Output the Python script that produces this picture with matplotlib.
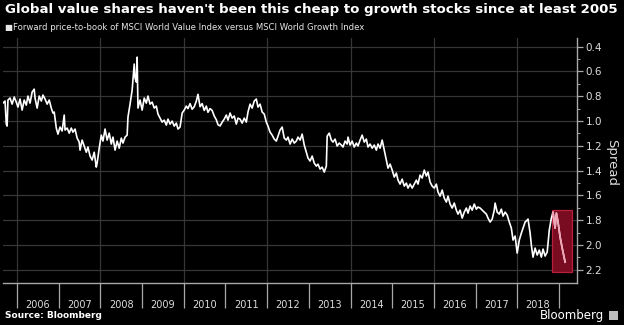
import matplotlib
matplotlib.use("Agg")
import matplotlib.pyplot as plt
import matplotlib.patches as patches

# forward P/B spread, value vs growth
years = [
    2005.66, 2005.71, 2005.74, 2005.76, 2005.78, 2005.83, 2005.88, 2005.93, 2005.98,
    2006.02, 2006.07, 2006.12, 2006.17, 2006.22, 2006.26, 2006.31, 2006.36, 2006.41, 2006.43,
    2006.48, 2006.53, 2006.58, 2006.62, 2006.67, 2006.72, 2006.77, 2006.82, 2006.86, 2006.89,
    2006.94, 2006.98,
    2007.03, 2007.08, 2007.13, 2007.15, 2007.20, 2007.25, 2007.30, 2007.34, 2007.39, 2007.44,
    2007.49, 2007.51, 2007.56, 2007.61, 2007.66, 2007.70, 2007.75, 2007.80, 2007.85, 2007.90,
    2007.92, 2007.97,
    2008.02, 2008.06, 2008.11, 2008.16, 2008.21, 2008.26, 2008.30, 2008.35, 2008.40, 2008.45,
    2008.50, 2008.54, 2008.59, 2008.64, 2008.66, 2008.71, 2008.76, 2008.78, 2008.81, 2008.83,
    2008.86, 2008.88, 2008.90, 2008.95, 2009.00,
    2009.05, 2009.10, 2009.14, 2009.19, 2009.24, 2009.29, 2009.34, 2009.38, 2009.43, 2009.48,
    2009.53, 2009.58, 2009.62, 2009.67, 2009.72, 2009.77, 2009.82, 2009.86, 2009.91, 2009.96,
    2010.01, 2010.06, 2010.10, 2010.15, 2010.20, 2010.25, 2010.30, 2010.34, 2010.39, 2010.44,
    2010.49, 2010.54, 2010.58, 2010.63, 2010.68, 2010.73, 2010.78, 2010.82, 2010.87, 2010.92,
    2010.97,
    2011.02, 2011.06, 2011.11, 2011.16, 2011.21, 2011.26, 2011.30, 2011.35, 2011.40, 2011.45,
    2011.50, 2011.54, 2011.59, 2011.64, 2011.69, 2011.74, 2011.78, 2011.83, 2011.88, 2011.93,
    2011.98,
    2012.02, 2012.07, 2012.12, 2012.17, 2012.22, 2012.26, 2012.31, 2012.36, 2012.41, 2012.46,
    2012.50, 2012.55, 2012.60, 2012.65, 2012.70, 2012.74, 2012.79, 2012.84, 2012.89, 2012.94,
    2012.98,
    2013.03, 2013.08, 2013.13, 2013.18, 2013.22, 2013.27, 2013.32, 2013.37, 2013.42, 2013.44,
    2013.49, 2013.54, 2013.58, 2013.63, 2013.68, 2013.73, 2013.78, 2013.82, 2013.87, 2013.92,
    2013.94, 2013.99,
    2014.04, 2014.09, 2014.14, 2014.18, 2014.23, 2014.28, 2014.33, 2014.38, 2014.42, 2014.47,
    2014.52, 2014.57, 2014.62, 2014.66, 2014.71, 2014.76, 2014.81, 2014.86, 2014.90, 2014.95,
    2015.00, 2015.05, 2015.10, 2015.14, 2015.19, 2015.24, 2015.29, 2015.34, 2015.38, 2015.43,
    2015.48, 2015.58, 2015.62, 2015.67, 2015.72, 2015.77, 2015.82, 2015.86, 2015.91, 2015.96,
    2016.01, 2016.06, 2016.10, 2016.15, 2016.20, 2016.25, 2016.30, 2016.34, 2016.39, 2016.44,
    2016.49, 2016.54, 2016.58, 2016.63, 2016.68, 2016.73, 2016.78, 2016.82, 2016.87, 2016.92,
    2016.97,
    2017.02, 2017.06, 2017.11, 2017.16, 2017.21, 2017.26, 2017.30, 2017.35, 2017.40, 2017.45,
    2017.47, 2017.52, 2017.57, 2017.62, 2017.66, 2017.71, 2017.76, 2017.81, 2017.86, 2017.90,
    2017.95,
    2018.00, 2018.05, 2018.10, 2018.14, 2018.19, 2018.24, 2018.26, 2018.31, 2018.34, 2018.38,
    2018.43, 2018.48, 2018.53, 2018.58, 2018.62, 2018.67, 2018.72, 2018.77, 2018.82, 2018.86,
    2018.91, 2018.94, 2018.98, 2019.03, 2019.08, 2019.15,
]
spread = [
    0.856, 0.839, 1.025, 1.041, 0.831, 0.815, 0.864, 0.807, 0.848,
    0.888, 0.823, 0.912, 0.831, 0.872, 0.799, 0.856, 0.767, 0.743, 0.815,
    0.896, 0.799, 0.839, 0.791, 0.823, 0.864, 0.831, 0.896, 0.936, 0.928,
    1.057, 1.106,
    1.049, 1.081, 0.952, 1.073, 1.057, 1.098, 1.057, 1.090, 1.065, 1.138,
    1.170, 1.235, 1.154, 1.202, 1.252, 1.210, 1.283, 1.315, 1.252, 1.372,
    1.340, 1.219,
    1.114, 1.162, 1.065, 1.154, 1.098, 1.186, 1.130, 1.235, 1.162, 1.219,
    1.138, 1.178, 1.130, 1.114, 0.969, 0.864, 0.751, 0.670, 0.541, 0.654,
    0.686, 0.485, 0.896, 0.831, 0.912,
    0.815, 0.856, 0.799, 0.864, 0.848, 0.896, 0.880, 0.944, 0.977, 1.009,
    0.993, 1.033, 0.985, 1.025, 1.001, 1.041, 1.017, 1.065, 1.049, 0.936,
    0.912, 0.880, 0.900, 0.860, 0.905, 0.885, 0.840, 0.785, 0.885, 0.860,
    0.915, 0.880, 0.930, 0.900, 0.915, 0.960, 0.990, 1.030, 1.040, 1.010,
    0.985,
    0.952, 0.993, 0.936, 0.977, 0.960, 1.025, 0.977, 0.985, 1.017, 0.977,
    1.009, 0.928, 0.864, 0.896, 0.839, 0.823, 0.888, 0.864, 0.928, 0.944,
    1.009,
    1.041, 1.090, 1.114, 1.146, 1.162, 1.122, 1.073, 1.049, 1.138, 1.154,
    1.130, 1.186, 1.146, 1.178, 1.162, 1.130, 1.154, 1.106, 1.194, 1.251,
    1.299,
    1.323, 1.283, 1.340, 1.364, 1.348, 1.388, 1.372, 1.412, 1.364, 1.122,
    1.098, 1.154, 1.170, 1.146, 1.202, 1.178, 1.194, 1.210, 1.162, 1.186,
    1.130, 1.194,
    1.162, 1.210, 1.178, 1.202, 1.154, 1.114, 1.170, 1.146, 1.210, 1.186,
    1.219, 1.194, 1.235, 1.186, 1.219, 1.154, 1.235, 1.315, 1.380, 1.348,
    1.396, 1.452, 1.420, 1.477, 1.509, 1.469, 1.525, 1.501, 1.541, 1.509,
    1.541, 1.477, 1.509, 1.436, 1.460, 1.396, 1.444, 1.412, 1.493, 1.525,
    1.541, 1.509, 1.573, 1.606, 1.557, 1.622, 1.654, 1.606, 1.670, 1.702,
    1.662, 1.719, 1.751, 1.719, 1.783, 1.735, 1.702, 1.743, 1.686, 1.719,
    1.670,
    1.711, 1.694, 1.702, 1.719, 1.735, 1.751, 1.783, 1.815, 1.791, 1.719,
    1.662, 1.735, 1.751, 1.711, 1.767, 1.735, 1.759, 1.815, 1.864, 1.960,
    1.928,
    2.065, 1.960, 1.904, 1.864, 1.815, 1.799, 1.791, 1.904, 2.001, 2.098,
    2.025, 2.081, 2.041, 2.098, 2.033, 2.089, 2.057, 1.880, 1.783, 1.735,
    1.864, 1.743, 1.815, 1.936, 2.025, 2.138,
]

year_ticks = list(range(2006, 2020))
year_labels = [str(y) for y in range(2006, 2019)]
grid_years = year_ticks[::2]
spread_ticks = [0.4, 0.6, 0.8, 1.0, 1.2, 1.4, 1.6, 1.8, 2.0, 2.2]

# red box around the latest move
box_x0, box_x1 = 2018.84, 2019.32
box_y0, box_y1 = 1.72, 2.22

title = "Global value shares haven't been this cheap to growth stocks since at least 2005"
subtitle = "Forward price-to-book of MSCI World Value Index versus MSCI World Growth Index"

fig = plt.figure(figsize=(6.24, 3.25), dpi=100, facecolor='black')
ax = fig.add_axes([0.005, 0.129, 0.92, 0.754])
ax.set_facecolor('black')

for v in spread_ticks:
    ax.axhline(v, color='#363636', lw=0.9, zorder=1)
for yr in grid_years:
    ax.axvline(yr, color='#363636', lw=0.9, zorder=1)

box = patches.Rectangle((box_x0, box_y0), box_x1 - box_x0, box_y1 - box_y0,
                        facecolor='#7a0c22', edgecolor='#b8203e', lw=0.9, zorder=1.5)
ax.add_patch(box)

ax.plot(years, spread, color='white', lw=1.2, zorder=2)
# the part inside the box shows through pink
pink, = ax.plot(years, spread, color='#f0a3b4', lw=1.2, zorder=2.5)
pink.set_clip_path(box)

ax.set_xlim(2005.664, 2019.44)
ax.set_ylim(2.307, 0.331)

for s in ['top', 'left']:
    ax.spines[s].set_visible(False)
for s in ['bottom', 'right']:
    ax.spines[s].set_color('#a8a8a8')
    ax.spines[s].set_linewidth(1.0)

# y axis on the right
ax.yaxis.tick_right()
ax.set_yticks(spread_ticks)
ax.set_yticklabels(['%.1f' % v for v in spread_ticks])
ax.set_yticks([v + 0.1 for v in spread_ticks[:-1]], minor=True)
ax.tick_params(axis='y', which='major', direction='out', length=4, width=0.9,
               color='#a8a8a8', labelcolor='#dddddd', labelsize=7.5, pad=2)
ax.tick_params(axis='y', which='minor', direction='out', length=2, width=0.7,
               color='#a8a8a8')

# x axis: long year ticks, labels centred in between
ax.set_xticks(year_ticks)
ax.set_xticklabels([])
ax.set_xticks([y + 0.5 for y in range(2006, 2019)], minor=True)
ax.set_xticklabels(year_labels, minor=True)
ax.tick_params(axis='x', which='major', direction='out', length=18, width=0.9,
               color='#a8a8a8')
ax.tick_params(axis='x', which='minor', length=0, labelcolor='#dddddd',
               labelsize=7, pad=12)

fig.text(612 / 624, 1 - 162 / 325, 'Spread', rotation=270, ha='center', va='center',
         color='#dddddd', fontsize=9.5)

fig.text(5 / 624, 1 - 10 / 325, title, color='white', fontsize=9.6,
         fontweight='bold', ha='left', va='center')
fig.text(5 / 624, 1 - 28 / 325, '\u25a0' + subtitle, color='#e6e6e6', fontsize=6.1,
         ha='left', va='center')
fig.text(5 / 624, 1 - 316 / 325, 'Source: Bloomberg', color='white', fontsize=6.5,
         fontweight='bold', ha='left', va='center')
fig.text(604 / 624, 1 - 315 / 325, 'Bloomberg', color='white', fontsize=8.5,
         ha='right', va='center')
fig.patches.append(patches.Rectangle((609 / 624, 1 - 320 / 325), 9 / 624, 9 / 325,
                                     transform=fig.transFigure, facecolor='#bbbbbb',
                                     edgecolor='none'))

fig.savefig('out.png', dpi=100, facecolor='black')
